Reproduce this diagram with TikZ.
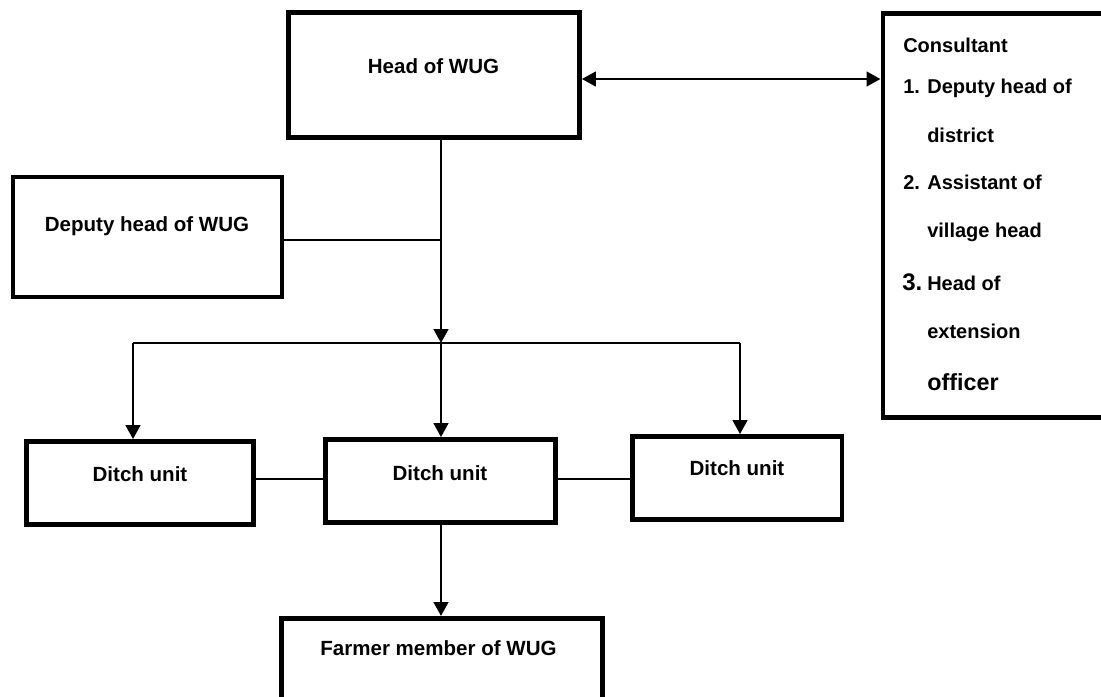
\documentclass[tikz,border=0pt]{standalone}
\usepackage{fontspec}
\setmainfont{Liberation Sans}
\usetikzlibrary{arrows.meta}
\tikzset{
  box/.style={draw=black, line width=3.6pt, rectangle, inner sep=0pt},
  lbl/.style={font=\bfseries\fontsize{15.4}{18}\selectfont, anchor=base, inner sep=0pt},
  clbl/.style={font=\bfseries\fontsize{15}{18}\selectfont, anchor=base west, inner sep=0pt},
  conn/.style={line width=1.9pt, draw=black},
  arr/.style={conn, -{Triangle[width=11pt,length=10.5pt]}},
  darr/.style={conn, {Triangle[width=11pt,length=10.5pt]}-{Triangle[width=11pt,length=10.5pt]}}
}
\begin{document}
\begin{tikzpicture}[x=0.75pt,y=-0.75pt]
\useasboundingbox (0,0) rectangle (1101,697);
\begin{scope}
\clip (0,0) rectangle (1101,697);
% boxes
\node[box, minimum width=291pt*0.75, minimum height=125pt*0.75] (head) at (434,75) {};
\node[box, minimum width=240pt*0.75, minimum height=404pt*0.75, anchor=north west] (cons) at (880.5,11) {};
\node[box, minimum width=269pt*0.75, minimum height=120pt*0.75] (dep) at (147.5,237) {};
\node[box, minimum width=227pt*0.75, minimum height=83pt*0.75] (dl) at (140,483) {};
\node[box, minimum width=230pt*0.75, minimum height=83pt*0.75] (dm) at (440.5,481) {};
\node[box, minimum width=209.5pt*0.75, minimum height=83pt*0.75] (dr) at (737.25,478) {};
\node[box, minimum width=321pt*0.75, minimum height=120pt*0.75, anchor=north west] (farm) at (279,616) {};
\end{scope}
% texts
\node[lbl] (thead) at (433.5,73) {Head of WUG};
\node[lbl] (tdep) at (147,231) {Deputy head of WUG};
\node[lbl] (tdl) at (140,481) {Ditch unit};
\node[lbl] (tdm) at (440,480) {Ditch unit};
\node[lbl] (tdr) at (737,475) {Ditch unit};
\node[lbl] (tfarm) at (438.5,655) {Farmer member of WUG};
% consultant texts
\node[clbl] (c0) at (903,52) {Consultant};
\node[clbl] (c1) at (903,93) {1. Deputy head of};
\node[clbl] (c2) at (927,142) {district};
\node[clbl] (c3) at (903,189) {2. Assistant of};
\node[clbl] (c4) at (927,237) {village head};
\node[clbl, font=\bfseries\fontsize{18}{20}\selectfont] (c5a) at (902,290) {3.};
\node[clbl] (c5) at (927,290) {Head of};
\node[clbl] (c6) at (927,338) {extension};
\node[clbl, font=\bfseries\fontsize{17.5}{20}\selectfont] (c7) at (927,390) {officer};
% junction coordinates
\coordinate (jtop) at (441,137.5);
\coordinate (jdep) at (441,240);
\coordinate (jmid) at (441,343);
\coordinate (jl) at (133,343);
\coordinate (jr) at (740,343);
% connectors
\draw[conn] (jtop) -- (jdep);
\draw[arr] (jdep) -- (jmid);
\draw[conn] (dep.east |- jdep) -- (jdep);
\draw[conn] (jl) -- (jr);
\draw[arr] (jl) -- (jl |- dl.north);
\draw[arr] (jmid) -- (jmid |- dm.north);
\draw[arr] (jr) -- (jr |- dr.north);
\draw[conn] (dl.east |- 0,479) -- (dm.west |- 0,479);
\draw[conn] (dm.east |- 0,479) -- (dr.west |- 0,479);
\draw[arr] (jmid |- dm.south) -- (jmid |- farm.north);
\draw[darr] (head.east |- 0,79) -- (cons.west |- 0,79);
\end{tikzpicture}
\end{document}
